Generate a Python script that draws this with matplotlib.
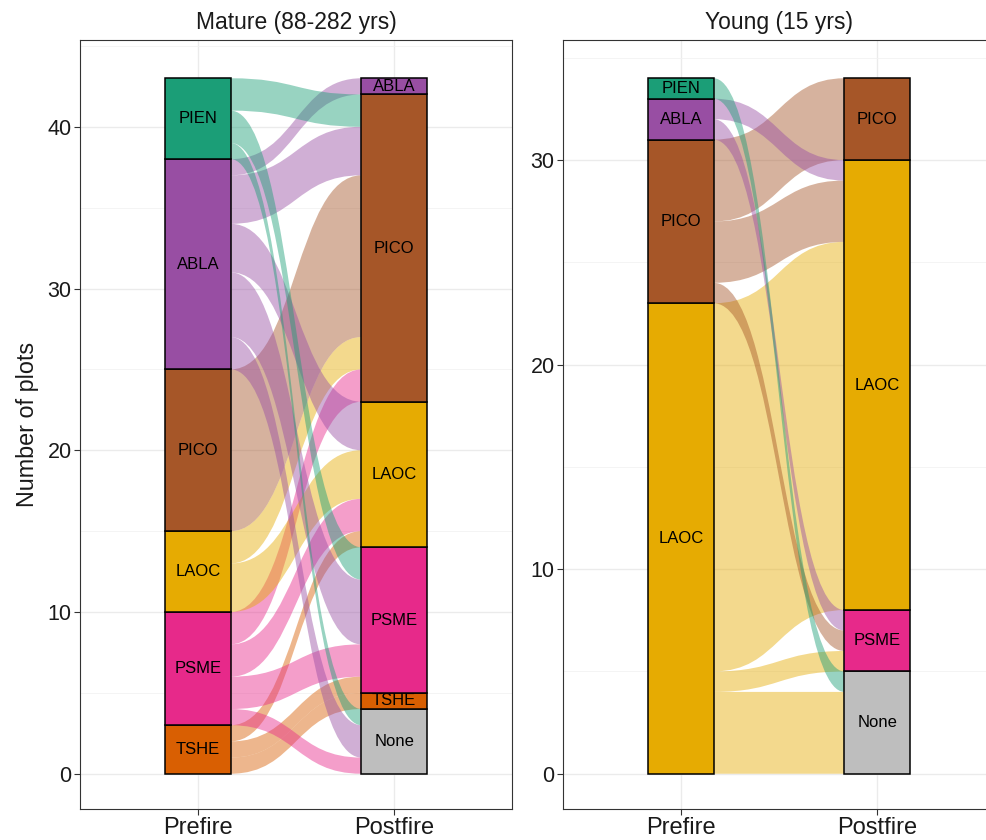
import matplotlib
matplotlib.use('Agg')
import matplotlib.pyplot as plt
from matplotlib.path import Path
from matplotlib.patches import PathPatch, Rectangle

plt.rcParams['font.family'] = ['Liberation Sans', 'DejaVu Sans']

# ---------------- data ----------------
strata_order = ['None', 'TSHE', 'PSME', 'LAOC', 'PICO', 'ABLA', 'PIEN']
strata_colors = ['#BEBEBE', '#D95F02', '#E7298A', '#E6AB02', '#A65628', '#984EA3', '#1B9E77']

x_labels = ['Prefire', 'Postfire']
panel_titles = ['Mature (88-282 yrs)', 'Young (15 yrs)']

mature_from = ['TSHE', 'TSHE', 'TSHE', 'PSME', 'PSME', 'PSME', 'PSME', 'LAOC', 'LAOC',
               'PICO', 'ABLA', 'ABLA', 'ABLA', 'ABLA', 'ABLA', 'PIEN', 'PIEN', 'PIEN']
mature_to = ['TSHE', 'PSME', 'LAOC', 'None', 'PSME', 'LAOC', 'PICO', 'LAOC', 'PICO',
             'PICO', 'None', 'PSME', 'LAOC', 'PICO', 'ABLA', 'None', 'PSME', 'PICO']
mature_n = [1, 1, 1, 1, 2, 2, 2, 3, 2, 10, 2, 4, 3, 3, 1, 1, 2, 2]

young_from = ['LAOC', 'LAOC', 'LAOC', 'PICO', 'PICO', 'PICO', 'ABLA', 'ABLA', 'PIEN']
young_to = ['None', 'PSME', 'LAOC', 'PSME', 'LAOC', 'PICO', 'PSME', 'LAOC', 'None']
young_n = [4, 1, 18, 1, 3, 4, 1, 1, 1]

mature_yticks = [0, 10, 20, 30, 40]
young_yticks = [0, 10, 20, 30]

# ---------------- helpers ----------------
col = dict(zip(strata_order, strata_colors))
rank = {s: i for i, s in enumerate(strata_order)}
W = 1 / 3
K = 0.5
FLOW_ALPHA = 0.45
PANEL_TOP_PX = 40
PANEL_BOT_PX = 808.5
SCALE_PX = 765  # pixels spanned by the expanded data range


def layout(frm, to, n):
    idx = list(range(len(n)))
    left = {}
    strata_left = {}
    y = 0
    for s in strata_order:
        fl = sorted([i for i in idx if frm[i] == s], key=lambda i: rank[to[i]])
        if not fl:
            continue
        y0 = y
        for i in fl:
            left[i] = (y, y + n[i])
            y += n[i]
        strata_left[s] = (y0, y)
    right = {}
    strata_right = {}
    y = 0
    for s in strata_order:
        fl = sorted([i for i in idx if to[i] == s], key=lambda i: rank[frm[i]])
        if not fl:
            continue
        y0 = y
        for i in fl:
            right[i] = (y, y + n[i])
            y += n[i]
        strata_right[s] = (y0, y)
    return left, right, strata_left, strata_right, y


def draw_panel(ax, frm, to, n, yticks, title, ylabel=None):
    left, right, sl, sr, total = layout(frm, to, n)
    x0 = 1 + W / 2
    x1 = 2 - W / 2
    dx = x1 - x0
    order = sorted(range(len(n)), key=lambda i: (rank[frm[i]], rank[to[i]]))
    for i in order:
        lb, lt = left[i]
        rb, rt = right[i]
        verts = [(x0, lt), (x0 + K * dx, lt), (x1 - K * dx, rt), (x1, rt),
                 (x1, rb),
                 (x1 - K * dx, rb), (x0 + K * dx, lb), (x0, lb),
                 (x0, lt)]
        codes = [Path.MOVETO, Path.CURVE4, Path.CURVE4, Path.CURVE4,
                 Path.LINETO,
                 Path.CURVE4, Path.CURVE4, Path.CURVE4,
                 Path.CLOSEPOLY]
        ax.add_patch(PathPatch(Path(verts, codes), facecolor=col[frm[i]],
                               alpha=FLOW_ALPHA, edgecolor='none', zorder=2))
    for xc, strata in ((1, sl), (2, sr)):
        for s, (b, t) in strata.items():
            ax.add_patch(Rectangle((xc - W / 2, b), W, t - b, facecolor=col[s],
                                   edgecolor='black', linewidth=1.1, zorder=3))
            ax.text(xc, (b + t) / 2, s, ha='center', va='center', fontsize=12,
                    color='black', zorder=4)
    ax.set_xlim(0.4, 2.6)
    pad = 0.05 * total
    px_per_unit = SCALE_PX / (total + 2 * pad)
    ax.set_ylim(-pad, -pad + (PANEL_BOT_PX - PANEL_TOP_PX) / px_per_unit)
    ax.set_xticks([1, 2])
    ax.set_xticklabels(x_labels, fontsize=17)
    ax.set_yticks(yticks)
    ax.set_yticklabels([str(v) for v in yticks], fontsize=15.5)
    minors = [v + 5 for v in yticks] + [yticks[0] - 5]
    minors = [m for m in minors if -pad < m < total + 2 * pad]
    ax.set_yticks(minors, minor=True)
    ax.tick_params(which='minor', length=0)
    ax.tick_params(which='major', length=4, width=0.8, color='#333333',
                   labelcolor='#1a1a1a', pad=2)
    ax.grid(True, which='major', color='#EBEBEB', linewidth=1.0, zorder=0)
    ax.grid(True, which='minor', axis='y', color='#F2F2F2', linewidth=0.6, zorder=0)
    ax.set_axisbelow(True)
    for sp in ax.spines.values():
        sp.set_color('#333333')
        sp.set_linewidth(0.8)
    ax.set_title(title, fontsize=16.5, pad=8, color='#1a1a1a')
    if ylabel:
        ax.set_ylabel(ylabel, fontsize=16.8, labelpad=6, color='#1a1a1a')


fig = plt.figure(figsize=(9.87, 8.4), dpi=100)
bottom = 1 - PANEL_BOT_PX / 840
height = (PANEL_BOT_PX - PANEL_TOP_PX) / 840
ax1 = fig.add_axes([80 / 987, bottom, 432 / 987, height])
ax2 = fig.add_axes([563 / 987, bottom, 432 / 987, height])

draw_panel(ax1, mature_from, mature_to, mature_n, mature_yticks, panel_titles[0],
           ylabel='Number of plots')
draw_panel(ax2, young_from, young_to, young_n, young_yticks, panel_titles[1])

fig.savefig('out.png', dpi=100)
